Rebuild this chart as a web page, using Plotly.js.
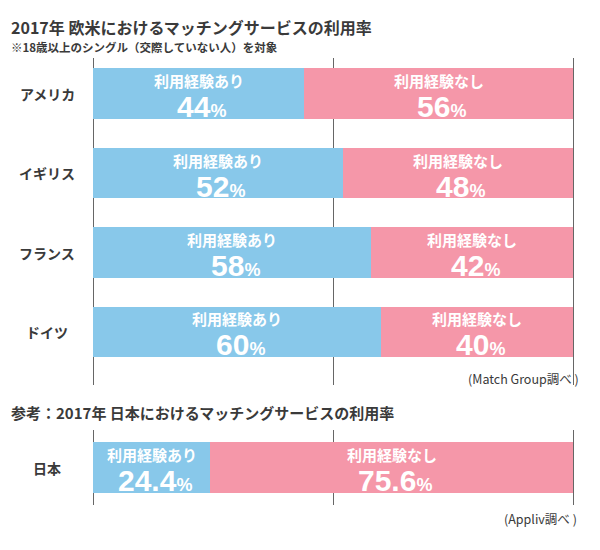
<!DOCTYPE html>
<html>
<head>
<meta charset="utf-8">
<script src="https://cdn.plot.ly/plotly-3.0.1.min.js"></script>
<style>
html,body{margin:0;padding:0;background:#fff;}
#chart{width:600px;height:550px;}
</style>
</head>
<body>
<div id="chart"></div>
<script>
// ---- data ----
const countries = ['アメリカ', 'イギリス', 'フランス', 'ドイツ'];
const usedPct = [44, 52, 58, 60];
const notUsedPct = [56, 48, 42, 40];
const jpCategories = ['日本'];
const jpUsedPct = [24.4];
const jpNotUsedPct = [75.6];
const usedLabel = '利用経験あり';
const notUsedLabel = '利用経験なし';
const gridVals = [0, 50, 100];

// ---- styles ----
const BLUE = '#88c8ea';
const PINK = '#f597a9';
const TEXT = '#3a3a3a';
const GRID = '#666666';
const JP = '"Noto Sans CJK JP", "Noto Sans", sans-serif';
const NUM = '"Liberation Sans", Arial, sans-serif';

const W = 600, H = 550;
const px2x = p => p / W;
const px2y = p => 1 - p / H;

function barTrace(x, y, color, xa, ya, width) {
  return {
    type: 'bar', orientation: 'h', x: x, y: y,
    marker: {color: color, line: {width: 0}},
    width: width, xaxis: xa, yaxis: ya,
    hoverinfo: 'skip', showlegend: false
  };
}

const data = [
  barTrace(usedPct, countries, BLUE, 'x', 'y', 0.64),
  barTrace(notUsedPct, countries, PINK, 'x', 'y', 0.64),
  barTrace(jpUsedPct, jpCategories, BLUE, 'x2', 'y2', 0.61),
  barTrace(jpNotUsedPct, jpCategories, PINK, 'x2', 'y2', 0.61)
];

function fmtPct(v) {
  return '<b>' + v + '</b><span style="font-size:18px"><b>%</b></span>';
}

const annotations = [];
function segLabels(cats, used, notUsed, xa, ya, numSize) {
  cats.forEach((c, i) => {
    const segs = [
      {mid: used[i] / 2, label: usedLabel, v: used[i]},
      {mid: used[i] + notUsed[i] / 2, label: notUsedLabel, v: notUsed[i]}
    ];
    segs.forEach(s => {
      annotations.push({
        xref: xa, yref: ya, x: s.mid, y: c, text: s.label, showarrow: false,
        yshift: 13, font: {family: JP, size: 15, color: '#ffffff', weight: 'bold'}
      });
      annotations.push({
        xref: xa, yref: ya, x: s.mid, y: c, text: fmtPct(s.v), showarrow: false,
        xshift: 3, yshift: -13, font: {family: NUM, size: numSize, color: '#ffffff'}
      });
    });
    annotations.push({
      xref: 'paper', yref: ya, x: px2x(47), y: c, text: c, showarrow: false,
      xanchor: 'center', font: {family: JP, size: 14, color: TEXT, weight: 'bold'}
    });
  });
}
segLabels(countries, usedPct, notUsedPct, 'x', 'y', 30);
segLabels(jpCategories, jpUsedPct, jpNotUsedPct, 'x2', 'y2', 30);

function paperText(text, xpx, ypx, size, anchor, bold) {
  annotations.push({
    xref: 'paper', yref: 'paper', x: px2x(xpx), y: px2y(ypx), text: text,
    showarrow: false, xanchor: anchor, yanchor: 'middle', borderpad: 0,
    font: {family: JP, size: size, color: TEXT, weight: bold ? 'bold' : 'normal'}
  });
}
paperText('2017年 欧米におけるマッチングサービスの利用率', 10, 27, 16, 'left', true);
paperText('※18歳以上のシングル（交際していない人）を対象', 10, 47, 11.5, 'left', true);
paperText('(Match Group調べ )', 580, 378, 12.5, 'right', false);
paperText('参考：2017年 日本におけるマッチングサービスの利用率', 10, 412, 15, 'left', true);
paperText('(Appliv調べ )', 578, 518, 12.5, 'right', false);

const pad = 2;
const pxPerUnit = 480 / 100;
const xDomain = [px2x(93 - pad * pxPerUnit), px2x(573 + pad * pxPerUnit)];
const xBase = {
  domain: xDomain, range: [-pad, 100 + pad], tickvals: gridVals,
  showgrid: true, gridcolor: GRID, gridwidth: 1, showticklabels: false,
  zeroline: false, showline: false, ticks: '', fixedrange: true
};

const layout = {
  width: W, height: H,
  margin: {l: 0, r: 0, t: 0, b: 0},
  paper_bgcolor: '#ffffff', plot_bgcolor: 'rgba(0,0,0,0)',
  barmode: 'stack', bargap: 0,
  xaxis: Object.assign({}, xBase, {anchor: 'y'}),
  xaxis2: Object.assign({}, xBase, {anchor: 'y2'}),
  yaxis: {
    domain: [px2y(385), px2y(58)], type: 'category',
    range: [3.667, -0.447], showticklabels: false, showgrid: false,
    zeroline: false, ticks: '', fixedrange: true, anchor: 'x'
  },
  yaxis2: {
    domain: [px2y(505), px2y(430)], type: 'category',
    range: [0.45, -0.45], showticklabels: false, showgrid: false,
    zeroline: false, ticks: '', fixedrange: true, anchor: 'x2'
  },
  annotations: annotations,
  showlegend: false
};

Plotly.newPlot('chart', data, layout, {displayModeBar: false, staticPlot: true});
</script>
</body>
</html>
